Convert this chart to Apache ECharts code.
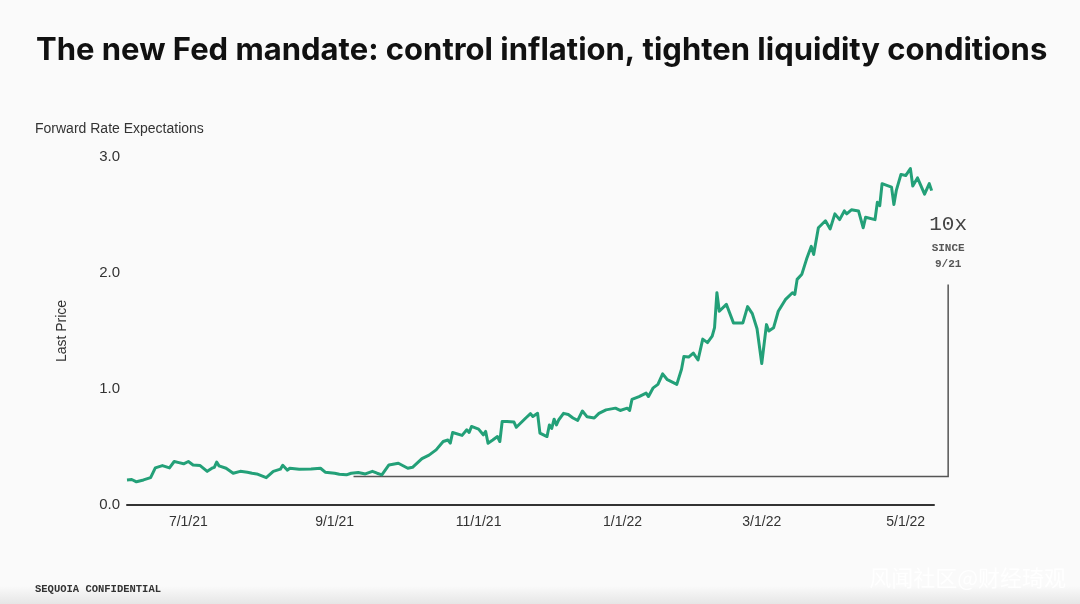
<!DOCTYPE html>
<html>
<head>
<meta charset="utf-8">
<script src="https://cdn.jsdelivr.net/npm/echarts@6/dist/echarts.min.js"></script>
<style>html,body{margin:0;padding:0;background:#fafafa;}#c{width:1080px;height:604px;}</style>
</head>
<body>
<div id="c"></div>
<script>
const titleText = 'The new Fed mandate: control inflation, tighten liquidity conditions';
const subtitleText = 'Forward Rate Expectations';
const yAxisName = 'Last Price';
const footerText = 'SEQUOIA CONFIDENTIAL';
const watermarkText = '风闻社区@财经琦观';
const annotationBig = '10x';
const annotationSmall = ['SINCE', '9/21'];

const xMin = '2021-06-05';
const xMax = '2022-05-13';
const xTickDates = ['2021-07-01', '2021-09-01', '2021-11-01', '2022-01-01', '2022-03-01', '2022-05-01'];
const yTicks = [0, 1, 2, 3];

// annotation bracket (data coords)
const bracketStart = '2021-09-09';
const bracketEnd = '2022-05-19';
const bracketLevel = 0.245;
const bracketTop = 1.9;

const dates = [
'2021-06-05','2021-06-07','2021-06-09','2021-06-12','2021-06-15','2021-06-17','2021-06-20','2021-06-23','2021-06-25','2021-06-27','2021-06-29',
'2021-07-01','2021-07-03','2021-07-06','2021-07-09','2021-07-11','2021-07-12','2021-07-13','2021-07-14','2021-07-17','2021-07-20','2021-07-23','2021-07-26','2021-07-28','2021-07-30',
'2021-08-03','2021-08-06','2021-08-09','2021-08-10','2021-08-12','2021-08-13','2021-08-17','2021-08-22','2021-08-26','2021-08-28',
'2021-09-01','2021-09-03','2021-09-06','2021-09-08','2021-09-11','2021-09-14','2021-09-17','2021-09-19','2021-09-21','2021-09-24','2021-09-28',
'2021-10-02','2021-10-04','2021-10-08','2021-10-11','2021-10-14','2021-10-17','2021-10-19','2021-10-20','2021-10-21','2021-10-25','2021-10-27','2021-10-28','2021-10-29',
'2021-11-01','2021-11-03','2021-11-04','2021-11-05','2021-11-07','2021-11-09','2021-11-10','2021-11-11','2021-11-13','2021-11-16','2021-11-17','2021-11-21','2021-11-23','2021-11-24','2021-11-26','2021-11-27','2021-11-30',
'2021-12-01','2021-12-02','2021-12-03','2021-12-04','2021-12-05','2021-12-07','2021-12-09','2021-12-11','2021-12-13','2021-12-15','2021-12-17','2021-12-20','2021-12-22','2021-12-25','2021-12-29','2021-12-31',
'2022-01-03','2022-01-04','2022-01-05','2022-01-08','2022-01-11','2022-01-12','2022-01-14','2022-01-16','2022-01-18','2022-01-20','2022-01-24','2022-01-26','2022-01-27','2022-01-29','2022-01-31',
'2022-02-02','2022-02-04','2022-02-06','2022-02-08','2022-02-09','2022-02-10','2022-02-11','2022-02-14','2022-02-17','2022-02-21','2022-02-23','2022-02-25','2022-02-27',
'2022-03-01','2022-03-03','2022-03-04','2022-03-06','2022-03-08','2022-03-11','2022-03-14','2022-03-15','2022-03-16','2022-03-18','2022-03-20','2022-03-22','2022-03-23','2022-03-25','2022-03-28','2022-03-30',
'2022-04-01','2022-04-03','2022-04-05','2022-04-06','2022-04-08','2022-04-11','2022-04-13','2022-04-14','2022-04-18','2022-04-19','2022-04-20','2022-04-21','2022-04-25','2022-04-26','2022-04-27','2022-04-29',
'2022-05-01','2022-05-03','2022-05-04','2022-05-06','2022-05-09','2022-05-11','2022-05-12'
];
const values = [
0.216,0.22,0.20,0.216,0.236,0.32,0.34,0.32,0.375,0.365,0.355,
0.375,0.345,0.34,0.29,0.317,0.325,0.37,0.337,0.317,0.274,0.29,0.283,0.274,0.268,
0.236,0.29,0.309,0.343,0.30,0.317,0.309,0.311,0.317,0.283,
0.274,0.265,0.26,0.274,0.28,0.268,0.29,0.274,0.26,0.345,0.36,
0.317,0.325,0.40,0.43,0.475,0.547,0.56,0.533,0.625,0.60,0.648,0.625,0.677,
0.654,0.605,0.634,0.533,0.56,0.59,0.547,0.72,0.72,0.715,0.67,0.75,0.787,0.763,0.79,0.62,0.59,
0.69,0.66,0.74,0.69,0.735,0.79,0.78,0.75,0.73,0.81,0.76,0.75,0.79,0.82,0.835,0.815,
0.835,0.815,0.91,0.935,0.965,0.935,1.01,1.04,1.13,1.08,1.04,1.17,1.28,1.275,1.31,
1.25,1.43,1.40,1.455,1.53,1.83,1.67,1.73,1.57,1.57,1.71,1.65,1.52,
1.22,1.555,1.50,1.527,1.67,1.77,1.83,1.815,1.945,1.99,2.12,2.23,2.16,2.39,2.45,2.38,
2.51,2.46,2.535,2.51,2.545,2.535,2.39,2.48,2.46,2.61,2.58,2.77,2.74,2.59,2.71,2.85,
2.84,2.90,2.75,2.82,2.68,2.77,2.71
];

function toTime(s){ const p = s.split('-').map(Number); return new Date(p[0], p[1]-1, p[2]).getTime(); }
function fmt(v){ const d = new Date(v); return (d.getMonth()+1) + '/' + d.getDate() + '/' + String(d.getFullYear()).slice(2); }

const chart = echarts.init(document.getElementById('c'), null, {renderer: 'canvas'});
const seriesData = dates.map((d, i) => [toTime(d), values[i]]);

chart.setOption({
  backgroundColor: '#fafafa',
  animation: false,
  grid: { left: 127, right: 146, top: 157, bottom: 99, containLabel: false },
  xAxis: {
    type: 'value',
    min: toTime(xMin), max: toTime(xMax),
    axisLine: { show: true, lineStyle: { color: '#333', width: 2 } },
    axisTick: { show: false },
    splitLine: { show: false },
    axisLabel: {
      customValues: xTickDates.map(toTime),
      formatter: fmt,
      color: '#333', fontSize: 14, fontFamily: 'Liberation Sans, Arial, sans-serif', margin: 10
    }
  },
  yAxis: {
    type: 'value', min: 0, max: 3, interval: 1,
    name: yAxisName, nameLocation: 'middle', nameRotate: 90, nameGap: 58,
    nameTextStyle: { color: '#333', fontSize: 14, fontFamily: 'Liberation Sans, Arial, sans-serif' },
    axisLine: { show: false }, axisTick: { show: false }, splitLine: { show: false },
    axisLabel: { formatter: v => v.toFixed(1), color: '#333', fontSize: 15, fontFamily: 'Liberation Sans, Arial, sans-serif', margin: 7 }
  },
  series: [{
    type: 'line', data: seriesData, showSymbol: false, symbol: 'none',
    lineStyle: { color: '#23a078', width: 3, join: 'round' },
    z: 3
  }]
});

const p0 = chart.convertToPixel({gridIndex: 0}, [toTime(bracketStart), bracketLevel]);
const p1 = chart.convertToPixel({gridIndex: 0}, [toTime(bracketEnd), bracketLevel]);
const p2 = chart.convertToPixel({gridIndex: 0}, [toTime(bracketEnd), bracketTop]);

chart.setOption({
  graphic: [
    { type: 'rect', left: 0, top: 586, shape: { width: 1080, height: 18 }, style: { fill: new echarts.graphic.LinearGradient(0, 0, 0, 1, [{offset: 0, color: '#fafafa'}, {offset: 1, color: '#e6e6e6'}]) }, z: -1 },
    { type: 'text', left: 36, top: 35, style: { text: titleText, fontSize: 31, fontWeight: 'bold', fontFamily: 'Inter, Liberation Sans, sans-serif', fill: '#111' } },
    { type: 'text', left: 35, top: 122, style: { text: subtitleText, fontSize: 14, fontFamily: 'Liberation Sans, Arial, sans-serif', fill: '#333' } },
    { type: 'text', left: 35, top: 584, style: { text: footerText, fontSize: 10.5, fontWeight: 'bold', fontFamily: 'Liberation Mono, DejaVu Sans Mono, monospace', fill: '#333' } },
    { type: 'polyline', shape: { points: [p0, p1, p2] }, style: { stroke: '#555', lineWidth: 1.5, fill: null }, z: 2 },
    { type: 'text', x: p1[0], y: 224, style: { text: annotationBig, fontSize: 21, fontFamily: 'Liberation Mono, DejaVu Sans Mono, monospace', fill: '#444', align: 'center', verticalAlign: 'middle' } },
    { type: 'text', x: p1[0], y: 248, style: { text: annotationSmall[0], fontSize: 11, fontWeight: 'bold', fontFamily: 'Liberation Mono, DejaVu Sans Mono, monospace', fill: '#555', align: 'center', verticalAlign: 'middle' } },
    { type: 'text', x: p1[0], y: 264, style: { text: annotationSmall[1], fontSize: 11, fontWeight: 'bold', fontFamily: 'Liberation Mono, DejaVu Sans Mono, monospace', fill: '#555', align: 'center', verticalAlign: 'middle' } },
    { type: 'text', right: 14, top: 567, style: { text: watermarkText, fontSize: 22, fontFamily: 'Noto Sans CJK SC, sans-serif', fill: 'rgba(255,255,255,0.9)' } }
  ]
});
</script>
</body>
</html>
